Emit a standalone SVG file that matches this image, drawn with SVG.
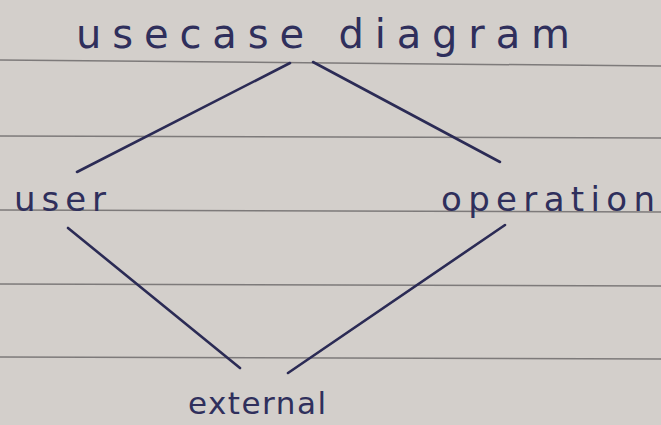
<svg xmlns="http://www.w3.org/2000/svg" width="661" height="425" viewBox="0 0 661 425">
<style>
.paper{fill:#d3cfcb}
.rule{stroke:#7d7a7a;stroke-width:1.5;fill:none}
.lbl{font-family:"DejaVu Sans","Liberation Sans",sans-serif;fill:#2f2f5c;font-weight:normal}
.conn{stroke:#2b2b55;stroke-width:2.6;stroke-linecap:round;fill:none}
</style>
<rect class="paper" x="0" y="0" width="661" height="425"/>
<g id="paper-rules">
<line class="rule" x1="0" y1="60" x2="661" y2="66"/>
<line class="rule" x1="0" y1="136" x2="661" y2="138"/>
<line class="rule" x1="0" y1="210" x2="661" y2="212"/>
<line class="rule" x1="0" y1="284" x2="661" y2="286"/>
<line class="rule" x1="0" y1="357" x2="661" y2="359"/>
</g>
<g id="connectors">
<line class="conn" x1="290" y1="63" x2="77" y2="172"/>
<line class="conn" x1="313" y1="62" x2="500" y2="162"/>
<line class="conn" x1="68" y1="228" x2="240" y2="368"/>
<line class="conn" x1="505" y1="225" x2="288" y2="373"/>
</g>
<g id="node-usecase-diagram">
<text class="lbl" x="76" y="48" font-size="40" textLength="494" lengthAdjust="spacing">usecase diagram</text>
</g>
<g id="node-user">
<text class="lbl" x="14" y="211" font-size="34" textLength="92" lengthAdjust="spacing">user</text>
</g>
<g id="node-operation">
<text class="lbl" x="441" y="211" font-size="34" textLength="214" lengthAdjust="spacing">operation</text>
</g>
<g id="node-external">
<text class="lbl" x="188" y="414" font-size="31" textLength="138" lengthAdjust="spacing">external</text>
</g>
</svg>
